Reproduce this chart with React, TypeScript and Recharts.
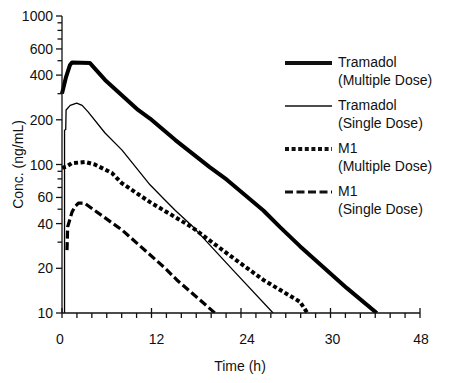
import { LineChart, Line, XAxis, YAxis, Legend, Label } from "recharts";

// Tramadol, multiple dose
const tramadolMultipleHours = [0, 0.54, 1.07, 1.34, 3.75, 5.77, 10.2, 11.8, 15.2, 19.8, 22.1, 27.0, 29.2, 31.9, 38.2, 42.2];
const tramadolMultipleConc = [300, 388, 468, 486, 482, 371, 233, 204, 146, 96, 79, 49, 38, 28.2, 14.7, 10];

// Tramadol, single dose
const tramadolSingleHours = [0.34, 0.34, 0.5, 0.55, 1.1, 1.97, 2.7, 3.5, 5.77, 8.05, 11.8, 13.8, 15.2, 17.6, 22.9, 28.3];
const tramadolSingleConc = [10, 170, 172, 233, 250, 259, 250, 226, 163, 125, 73, 57.7, 49, 37.9, 19.5, 10];

// M1, multiple dose
const m1MultipleHours = [0, 0.63, 1.3, 3.1, 4.4, 6.7, 8.0, 11.8, 17.4, 22.5, 27.0, 31.9, 32.9];
const m1MultipleConc = [95, 97, 102, 104, 100, 87.6, 75, 55.8, 37.9, 24.4, 16.7, 11.9, 10];

// M1, single dose
const m1SingleHours = [0.67, 0.76, 1.34, 1.74, 2.2, 3.0, 8.05, 13.8, 15.4, 20.5];
const m1SingleConc = [26.5, 38, 47.8, 52, 55, 55, 36.2, 20.1, 16.7, 10];

const xTicks = [0, 2, 4, 6, 8, 10, 12, 14, 16, 18, 20, 22, 24, 26, 28, 30, 32, 34, 36, 38, 40, 42, 44, 46, 48];
const xMajorTicks = [0, 12, 24, 36, 48];
const xTickLabels = ["0", "12", "24", "30", "48"];

const yTicks = [10, 20, 30, 40, 50, 60, 70, 80, 90, 100, 200, 300, 400, 500, 600, 700, 800, 900, 1000];
const yLabelledTicks = [10, 20, 40, 60, 100, 200, 400, 600, 1000];

const FONT = "'Liberation Sans', Arial, Helvetica, sans-serif";
const INK = "#111";

const toPoints = (hours: number[], conc: number[]) =>
  hours.map((t, i) => ({ t, c: conc[i] }));

const series = [
  { key: "tm", title: "Tramadol", sub: "(Multiple Dose)", data: toPoints(tramadolMultipleHours, tramadolMultipleConc), width: 4, dash: undefined as string | undefined },
  { key: "ts", title: "Tramadol", sub: "(Single Dose)", data: toPoints(tramadolSingleHours, tramadolSingleConc), width: 1.3, dash: undefined },
  { key: "mm", title: "M1", sub: "(Multiple Dose)", data: toPoints(m1MultipleHours, m1MultipleConc), width: 4, dash: "4 2.6" },
  { key: "ms", title: "M1", sub: "(Single Dose)", data: toPoints(m1SingleHours, m1SingleConc), width: 3.2, dash: "8 3.5" },
];

// the printed labels sit a touch off their ticks
const xLabelNudge: Record<number, number> = { 0: -2, 12: 5, 24: 6, 36: 2, 48: 1 };

function XTick({ x, y, payload }: any) {
  const v = payload.value;
  const idx = xMajorTicks.indexOf(v);
  const major = idx >= 0;
  return (
    <g>
      <line x1={x} x2={x} y1={major ? y - 5 : y} y2={y + 5} stroke={INK} strokeWidth={1.3} />
      {major && (
        <text x={x + (xLabelNudge[v] || 0)} y={y + 31} textAnchor="middle" fontSize={14} fontFamily={FONT} fill={INK}>
          {xTickLabels[idx]}
        </text>
      )}
    </g>
  );
}

function YTick({ x, y, payload }: any) {
  const major = yLabelledTicks.includes(payload.value);
  return (
    <g>
      <line x1={major ? x - 6 : x - 4.5} x2={x} y1={y} y2={y} stroke={INK} strokeWidth={1.3} />
      {major && (
        <text x={x - 9} y={y + 5} textAnchor="end" fontSize={14} fontFamily={FONT} fill={INK}>
          {payload.value}
        </text>
      )}
    </g>
  );
}

function LegendBox() {
  return (
    <svg width={170} height={180} style={{ display: "block" }}>
      {series.map((s, i) => (
        <g key={s.key}>
          <line x1={1} x2={48} y1={23 + i * 43} y2={23 + i * 43} stroke={INK} strokeWidth={s.width} strokeDasharray={s.dash} />
          <text x={54} y={27 + i * 43} fontSize={14} fontFamily={FONT} fill={INK}>{s.title}</text>
          <text x={54} y={45 + i * 43} fontSize={14} fontFamily={FONT} fill={INK}>{s.sub}</text>
        </g>
      ))}
    </svg>
  );
}

export default function App() {
  return (
    <div style={{ position: "absolute", left: 0, top: 0, background: "#fff" }}>
      <LineChart width={454} height={383} margin={{ top: 16, right: 34, bottom: 0, left: 0 }}>
        <XAxis
          type="number"
          dataKey="t"
          domain={[0, 48]}
          ticks={xTicks}
          interval={0}
          tickSize={0}
          tickMargin={0}
          tickLine={false}
          axisLine={{ stroke: INK, strokeWidth: 1.3 }}
          tick={<XTick />}
          height={70}
          allowDuplicatedCategory={false}
        >
          <Label
            content={({ viewBox }: any) => (
              <text x={viewBox.x + viewBox.width / 2 - 1} y={viewBox.y + 58} textAnchor="middle" fontSize={14} fontFamily={FONT} fill={INK}>
                Time (h)
              </text>
            )}
          />
        </XAxis>
        <YAxis
          type="number"
          dataKey="c"
          scale="log"
          domain={[10, 1000]}
          allowDataOverflow
          ticks={yTicks}
          interval={0}
          tickSize={0}
          tickMargin={0}
          tickLine={false}
          axisLine={{ stroke: INK, strokeWidth: 1.3 }}
          tick={<YTick />}
          width={62}
        >
          <Label
            content={({ viewBox }: any) => {
              const cx = viewBox.x + 18;
              const cy = viewBox.y + viewBox.height / 2;
              return (
                <text transform={`translate(${cx},${cy}) rotate(-90)`} textAnchor="middle" dominantBaseline="central" fontSize={14} fontFamily={FONT} fill={INK}>
                  Conc. (ng/mL)
                </text>
              );
            }}
          />
        </YAxis>
        {series.map((s) => (
          <Line
            key={s.key}
            data={s.data}
            dataKey="c"
            type="linear"
            stroke="#000"
            strokeWidth={s.width}
            strokeDasharray={s.dash}
            strokeLinejoin="round"
            dot={false}
            activeDot={false}
            isAnimationActive={false}
          />
        ))}
        <Legend
          layout="vertical"
          align="center"
          verticalAlign="middle"
          content={() => <LegendBox />}
          wrapperStyle={{ left: 284, top: 40, width: 170, height: 180 }}
        />
      </LineChart>
    </div>
  );
}
